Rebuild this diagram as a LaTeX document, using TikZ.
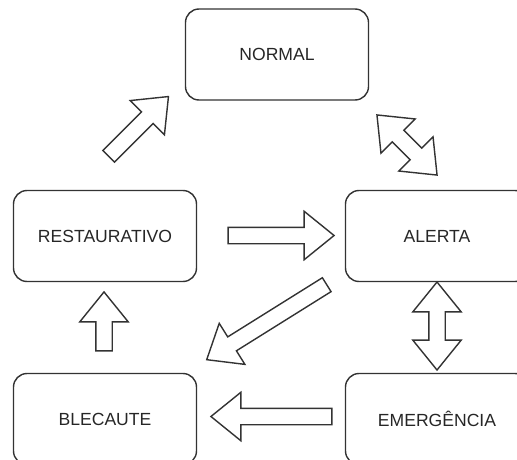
\documentclass[tikz,border=0pt]{standalone}
\usepackage{fontspec}
\setmainfont{Liberation Sans}
\usetikzlibrary{shapes,arrows}
\tikzstyle{block} = [rectangle, draw=black!80, line width=0.8pt, rounded corners=0.27cm,
    text=black!85, minimum width=3.66cm, minimum height=1.82cm]
\tikzstyle{bigarrow} = [single arrow, draw=black!80, line width=0.8pt, inner xsep=0pt,
    inner ysep=0.15cm, single arrow head extend=0.32cm, single arrow tip angle=78]
\tikzstyle{twoarrow} = [double arrow, draw=black!80, line width=0.8pt, inner xsep=0pt,
    inner ysep=0.15cm, double arrow head extend=0.32cm, double arrow tip angle=78]

\begin{document}
\begin{tikzpicture}[node distance = 6.64cm, auto]
    \useasboundingbox (0,0) rectangle (10.34,-9.18);
    \clip (0,0) rectangle (10.34,-9.18);

    % Place nodes
    \node [block] (normal) at (5.54,-1.09) {NORMAL};
    \node [block] (restaurativo) at (2.10,-4.72) {RESTAURATIVO};
    \node [block, right of=restaurativo] (alerta) {ALERTA};
    \node [block, below of=restaurativo, node distance=3.66cm] (blecaute) {BLECAUTE};
    \node [block, right of=blecaute] (emergencia) {EMERGÊNCIA};

    % Draw block arrows
    \node [bigarrow, minimum height=1.69cm, rotate=45] (restnormal) at (2.70,-2.60) {};
    \node [twoarrow, minimum height=1.70cm, rotate=-45] (normalalerta) at (8.14,-2.90) {};
    \node [bigarrow, minimum height=2.12cm] (restalerta) at (5.52,-4.71) {};
    \node [bigarrow, minimum height=2.83cm, rotate=212] (alertablec) at (5.42,-6.39) {};
    \node [twoarrow, minimum height=1.76cm, rotate=90] (alertaemerg) at (8.74,-6.52) {};
    \node [bigarrow, minimum height=2.42cm, rotate=180] (emergblec) at (5.53,-8.33) {};
    \node [bigarrow, minimum height=1.18cm, rotate=90] (blecrest) at (2.08,-6.53) {};
\end{tikzpicture}
\end{document}
